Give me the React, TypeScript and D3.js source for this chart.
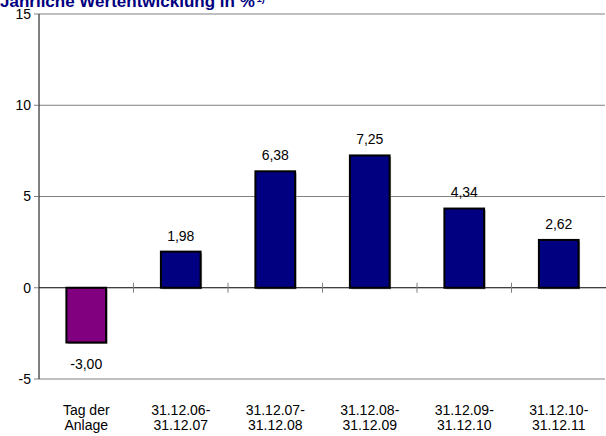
import React, { useEffect, useRef } from 'react';
import * as d3 from 'd3';

const categories = [['Tag der', 'Anlage'], ['31.12.06-', '31.12.07'], ['31.12.07-', '31.12.08'], ['31.12.08-', '31.12.09'], ['31.12.09-', '31.12.10'], ['31.12.10-', '31.12.11']];
const values = [-3.0, 1.98, 6.38, 7.25, 4.34, 2.62];
const labels = ['-3,00', '1,98', '6,38', '7,25', '4,34', '2,62'];
const yTicks = [-5, 0, 5, 10, 15];

const App = () => {
    const svgRef = useRef<SVGSVGElement>(null);

    useEffect(() => {
        const svg = d3.select(svgRef.current);
        svg.selectAll('*').remove();
        const font = 'Arial, "Liberation Sans", sans-serif';
        const left = 39, right = 606, top = 14, bottom = 379;

        const x = d3.scaleBand().domain(categories.map((d, i) => String(i))).range([left, right]).paddingInner(0.58).paddingOuter(0.29);
        const y = d3.scaleLinear().domain([-5, 15]).range([bottom, top]);

        // gridlines
        svg.append('g').selectAll('line').data(yTicks.filter((t) => t !== 0)).enter().append('line')
            .attr('x1', left).attr('x2', right - 1)
            .attr('y1', (d) => y(d)).attr('y2', (d) => y(d))
            .attr('stroke', '#808080').attr('stroke-width', 1);

        // y axis
        svg.append('line').attr('x1', left).attr('x2', left).attr('y1', top).attr('y2', bottom).attr('stroke', '#000');
        svg.append('g').selectAll('line').data(yTicks).enter().append('line')
            .attr('x1', left - 5).attr('x2', left)
            .attr('y1', (d) => y(d)).attr('y2', (d) => y(d))
            .attr('stroke', '#808080');
        svg.append('g').selectAll('text').data(yTicks).enter().append('text')
            .attr('x', 31).attr('y', (d) => y(d)).attr('dy', '0.35em')
            .attr('text-anchor', 'end').attr('font-family', font).attr('font-size', 14)
            .text((d) => String(d));

        // bars
        const g = svg.append('g');
        g.selectAll('.shadow').data(values).enter().append('rect')
            .attr('x', (d, i) => (x(String(i)) as number) + 1.5)
            .attr('y', (d) => Math.min(y(d), y(0)) + 1.5)
            .attr('width', x.bandwidth())
            .attr('height', (d) => Math.abs(y(d) - y(0)))
            .attr('fill', '#a0a0a0');
        g.selectAll('.bar').data(values).enter().append('rect')
            .attr('x', (d, i) => x(String(i)) as number)
            .attr('y', (d) => Math.min(y(d), y(0)))
            .attr('width', x.bandwidth())
            .attr('height', (d) => Math.abs(y(d) - y(0)))
            .attr('fill', (d, i) => (i === 0 ? '#800080' : '#000080'))
            .attr('stroke', '#000').attr('stroke-width', 2);

        // zero line + category ticks
        svg.append('line').attr('x1', left).attr('x2', right).attr('y1', y(0)).attr('y2', y(0)).attr('stroke', '#000');
        svg.append('g').selectAll('line').data(categories.slice(1)).enter().append('line')
            .attr('x1', (d, i) => (x(String(i + 1)) as number) - (x.step() - x.bandwidth()) / 2)
            .attr('x2', (d, i) => (x(String(i + 1)) as number) - (x.step() - x.bandwidth()) / 2)
            .attr('y1', y(0) - 5).attr('y2', y(0) + 5)
            .attr('stroke', '#808080');

        // value labels
        svg.append('g').selectAll('text').data(values).enter().append('text')
            .attr('x', (d, i) => (x(String(i)) as number) + x.bandwidth() / 2)
            .attr('y', (d) => (d >= 0 ? y(d) - 16 : y(d) + 22))
            .attr('dy', '0.35em')
            .attr('text-anchor', 'middle').attr('font-family', font).attr('font-size', 14)
            .text((d, i) => labels[i]);

        // category labels
        const cat = svg.append('g').selectAll('text').data(categories).enter().append('text')
            .attr('x', (d, i) => (x(String(i)) as number) + x.bandwidth() / 2)
            .attr('y', 415)
            .attr('text-anchor', 'middle').attr('font-family', font).attr('font-size', 14);
        cat.append('tspan').attr('x', (d, i) => (x(String(i)) as number) + x.bandwidth() / 2).attr('dy', 0).text((d) => d[0]);
        cat.append('tspan').attr('x', (d, i) => (x(String(i)) as number) + x.bandwidth() / 2).attr('dy', 15).text((d) => d[1]);

        // title
        const t = svg.append('text').attr('x', 0).attr('y', 7)
            .attr('font-family', font).attr('font-size', 17).attr('font-weight', 'bold').attr('fill', '#000080');
        t.append('tspan').text('Jährliche Wertentwicklung in %');
        t.append('tspan').attr('font-size', 9).attr('dy', -5).attr('dx', 2).text('1)');
    }, []);

    return <svg ref={svgRef} width={606} height={436} style={{ position: 'absolute', left: 0, top: 0, background: '#fff' }}></svg>;
};

export default App;
